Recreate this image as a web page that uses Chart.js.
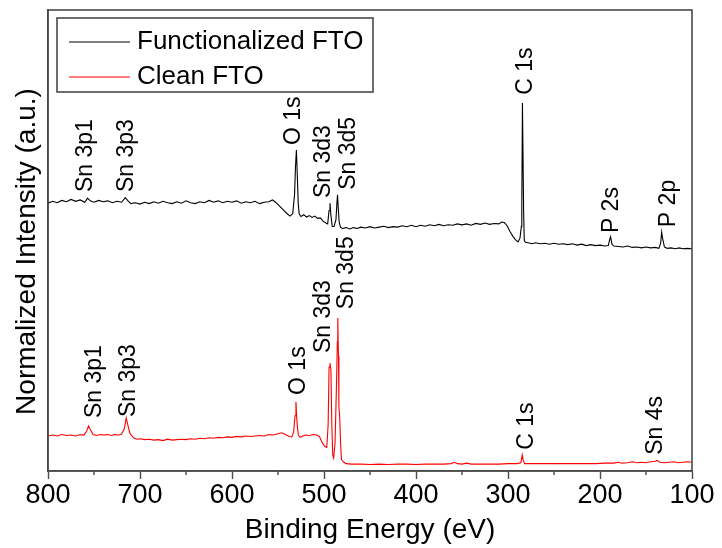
<!DOCTYPE html>
<html>
<head>
<meta charset="utf-8">
<script src="https://cdn.jsdelivr.net/npm/chart.js@4.4.1/dist/chart.umd.min.js"></script>
<style>
  html, body { margin: 0; padding: 0; background: #fff; }
  #wrap { width: 722px; height: 548px; position: relative; }
</style>
</head>
<body>
<div id="wrap"><canvas id="c" width="722" height="548"></canvas></div>
<script>
// ---------------- DATA ----------------
const seriesNames = ["Functionalized FTO", "Clean FTO"];

// Functionalized FTO (offset upward), binding energy (eV) and normalized intensity (a.u.)
const funcEnergy = [800,795,790,785,780,775,770,765,760,757,754,750,745,740,735,730,725,720,716,713,710,705,700,695,690,685,680,675,670,665,660,655,650,645,640,635,630,625,620,615,610,605,600,595,590,585,580,575,570,565,560,556,552,548,544,540,537,534,532,531,530,529,528,527,525,522,519,516,513,510,507,504,501,498,496,494.5,493.5,492.5,491,489,487,486,485.3,484.5,483.5,482,480,476,472,468,464,460,455,450,445,440,435,430,425,420,415,410,405,400,395,390,385,380,375,370,365,360,355,350,345,340,335,330,325,320,315,310,307,304,301,298,295,292,289,287,285.5,285,284.3,283.7,283,282.3,281,278,274,270,265,260,255,250,245,240,235,230,225,220,215,210,205,200,195,191,189.5,188.5,187,185,180,175,170,165,160,155,150,145,140,136,134,133,132,130,127,123,118,114,110,105,100];
const funcIntensity = [58.1,58.5,58.2,58.7,58.4,58.9,58.5,58.8,58.3,59.2,58.6,58.3,58.7,58.4,58.6,58.2,58.5,58.3,59.3,58.6,58.0,58.2,57.9,58.3,58.0,58.4,58.1,58.5,58.2,58.0,58.4,58.1,58.6,58.2,58.0,58.4,58.2,58.7,58.3,58.6,58.2,58.5,58.3,58.6,58.1,58.4,58.2,58.5,58.0,58.3,58.4,58.8,58.2,57.4,56.6,55.8,55.3,55.8,60.0,66.0,69.6,64.0,58.0,55.8,55.2,55.6,55.1,55.4,55.0,55.3,54.8,54.9,54.2,53.8,53.6,56.5,58.1,55.5,53.0,53.1,54.5,58.0,59.9,57.0,54.0,52.9,52.6,52.8,52.5,52.8,52.6,52.9,52.7,53.0,52.7,52.9,53.1,52.8,53.0,52.9,53.2,53.0,53.3,53.0,53.3,53.1,53.4,53.2,53.5,53.2,53.4,53.3,53.6,53.4,53.6,53.3,53.7,53.5,53.8,53.5,53.7,53.6,54.0,53.9,53.2,52.0,51.0,50.2,49.7,50.5,53.0,57.3,79.8,79.8,56.0,50.0,49.6,49.5,49.3,49.5,49.3,49.4,49.2,49.4,49.2,49.3,49.1,49.3,49.0,49.2,48.9,49.1,48.9,49.0,48.8,48.9,50.2,50.8,49.2,48.8,48.7,48.6,48.8,48.5,48.6,48.4,48.6,48.4,48.5,48.3,49.5,51.8,50.5,48.6,48.3,48.4,48.2,48.4,48.2,48.3,48.2];

// Clean FTO
const cleanEnergy = [800,795,790,785,780,775,770,765,761,758,756,754,751,747,743,739,735,731,727,723,720,717,715,713,711,708,706,703,700,695,690,685,680,675,670,665,660,655,650,645,640,635,630,625,620,615,610,605,600,595,590,585,580,575,570,565,560,555,550,546,542,538,535,533,531.5,530.5,529.5,528,526,523,520,516,512,508,505,502,499,497,495.5,494.5,493.5,492.5,491.5,490.5,489.5,488,486.5,485.5,485,484.3,483.8,483,482,481,479,476,470,460,450,440,430,420,410,400,390,380,370,362,358,355,350,345,340,330,320,310,300,290,286,284.5,283.5,282,275,265,255,245,235,225,215,205,195,185,180,176,170,165,160,155,150,145,140,138,135,130,125,120,115,110,105,100];
const cleanIntensity = [7.6,7.8,7.6,7.9,7.7,7.8,7.6,7.9,7.8,8.6,9.8,9.0,7.9,7.7,7.9,7.8,7.9,7.7,7.9,7.8,8.0,9.2,11.5,9.8,8.2,7.4,7.1,6.9,7.0,6.8,6.9,6.7,6.8,6.6,6.9,6.7,6.8,6.9,6.8,7.0,6.9,7.1,7.0,7.2,7.1,7.3,7.2,7.4,7.3,7.5,7.4,7.6,7.5,7.6,7.7,7.6,7.9,7.8,8.1,8.3,7.9,7.5,7.4,8.5,12.0,15.0,11.0,7.8,7.3,7.6,7.8,7.7,7.9,7.8,7.5,6.2,5.3,5.1,10.0,22.5,23.4,22.0,10.0,3.5,2.8,6.0,18.0,28.0,33.2,25.0,14.0,12.0,6.0,2.5,2.0,1.6,1.5,1.5,1.4,1.5,1.4,1.5,1.5,1.4,1.5,1.5,1.5,1.6,1.9,1.6,1.5,1.7,1.5,1.5,1.5,1.5,1.6,1.6,1.8,3.5,2.4,1.6,1.6,1.6,1.6,1.6,1.6,1.6,1.6,1.6,1.7,1.7,1.9,1.7,1.8,2.0,1.8,1.9,1.8,2.0,2.1,2.3,1.9,1.8,1.9,2.0,1.8,1.9,2.0,1.9];

// Axis ticks
const majorTicks = [800,700,600,500,400,300,200,100];
const minorTicks = [750,650,550,450,350,250,150];

// Peak annotations: text, energy at label centre, intensity at the label's start (bottom)
const peakText      = ["Sn 3p1","Sn 3p3","O 1s","Sn 3d3","Sn 3d5","C 1s","P 2s","P 2p",
                       "Sn 3p1","Sn 3p3","O 1s","Sn 3d3","Sn 3d5","C 1s","Sn 4s"];
const peakEnergy    = [761,717,535,503,475,283,189,128,
                       751,714,530,502,478,282,142];
const peakIntensity = [60.5,60.5,70.7,59.2,61.0,81.6,51.6,52.9,
                       11.5,11.7,16.5,25.6,35.1,4.6,3.5];

const xTitle = "Binding Energy (eV)";
const yTitle = "Normalized Intensity (a.u.)";

// ---------------- CHART ----------------
const FONT = "'Liberation Sans', Arial, Helvetica, sans-serif";
const FRAME = '#4a4a4a';

const toXY = (xs, ys) => xs.map((x, i) => ({x: x, y: ys[i]}));

const framePlugin = {
  id: 'frame',
  afterDraw(chart) {
    const {ctx, chartArea: a, scales} = chart;
    const xs = scales.x;
    ctx.save();
    ctx.strokeStyle = FRAME;
    ctx.lineWidth = 1.6;
    ctx.strokeRect(a.left, a.top, a.right - a.left, a.bottom - a.top);
    // minor ticks
    ctx.lineWidth = 1.4;
    ctx.beginPath();
    minorTicks.forEach(v => {
      const px = xs.getPixelForValue(v);
      ctx.moveTo(px, a.bottom);
      ctx.lineTo(px, a.bottom + 4);
    });
    ctx.stroke();

    // peak labels
    ctx.fillStyle = '#000';
    ctx.font = '23px ' + FONT;
    ctx.textAlign = 'left';
    ctx.textBaseline = 'alphabetic';
    const ys = scales.y;
    peakText.forEach((t, i) => {
      const px = xs.getPixelForValue(peakEnergy[i]);
      const py = ys.getPixelForValue(peakIntensity[i]);
      ctx.save();
      ctx.translate(px + 0.36 * 23, py);
      ctx.rotate(-Math.PI / 2);
      ctx.fillText(t, 0, 0);
      ctx.restore();
    });

    // y title
    ctx.font = '28px ' + FONT;
    ctx.textAlign = 'center';
    ctx.save();
    ctx.translate(a.left - 13, (a.top + a.bottom) / 2 + 11);
    ctx.rotate(-Math.PI / 2);
    ctx.fillText(yTitle, 0, 0);
    ctx.restore();

    // legend
    const lx = a.left + 9, ly = a.top + 8, lw = 316, lh = 74;
    ctx.strokeStyle = FRAME;
    ctx.lineWidth = 1.6;
    ctx.strokeRect(lx, ly, lw, lh);
    ctx.font = '26px ' + FONT;
    ctx.textAlign = 'left';
    chart.data.datasets.forEach((ds, i) => {
      const rowY = ly + 24 + i * 35;
      ctx.strokeStyle = ds.borderColor;
      ctx.lineWidth = 1.2;
      ctx.beginPath();
      ctx.moveTo(lx + 12, rowY);
      ctx.lineTo(lx + 73, rowY);
      ctx.stroke();
      ctx.fillStyle = '#000';
      ctx.fillText(ds.label, lx + 80, rowY + 7);
    });
    ctx.restore();
  }
};

new Chart(document.getElementById('c'), {
  type: 'line',
  data: {
    datasets: [
      { label: seriesNames[0], data: toXY(funcEnergy, funcIntensity), borderColor: '#000000', borderWidth: 1.1 },
      { label: seriesNames[1], data: toXY(cleanEnergy, cleanIntensity), borderColor: '#ff0000', borderWidth: 1.1 }
    ]
  },
  options: {
    responsive: false,
    animation: false,
    events: [],
    layout: { padding: { left: 0, right: 30, top: 10, bottom: 0 } },
    elements: { point: { radius: 0 }, line: { tension: 0 } },
    plugins: { legend: { display: false }, tooltip: { enabled: false } },
    scales: {
      x: {
        type: 'linear',
        reverse: true,
        min: 100, max: 800,
        afterBuildTicks: s => { s.ticks = majorTicks.map(v => ({value: v})); },
        afterFit: s => { s.height = 77; },
        ticks: { font: { size: 27, family: FONT }, color: '#000', padding: 0, maxRotation: 0 },
        grid: { drawOnChartArea: false, tickLength: 8, tickColor: FRAME, tickWidth: 1.4 },
        border: { color: FRAME, width: 1.6 },
        title: { display: true, text: xTitle, color: '#000', font: { size: 28, family: FONT }, padding: { top: 0, bottom: 1 } }
      },
      y: {
        type: 'linear',
        min: 0, max: 100,
        afterFit: s => { s.width = 48; },
        ticks: { display: false },
        grid: { display: false },
        border: { color: FRAME, width: 1.6 }
      }
    }
  },
  plugins: [framePlugin]
});
</script>
</body>
</html>
